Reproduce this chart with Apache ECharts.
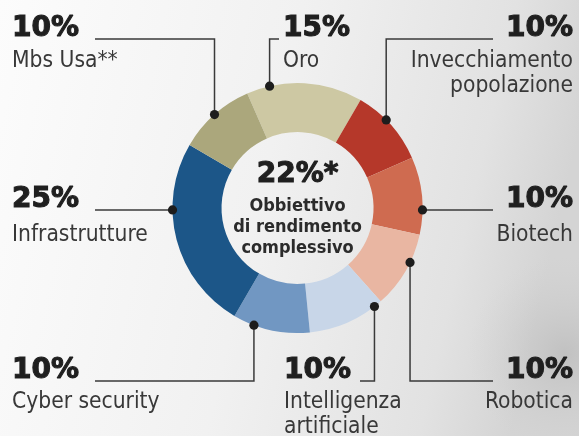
<!DOCTYPE html>
<html><head><meta charset="utf-8">
<script src="https://cdn.jsdelivr.net/npm/echarts@6/dist/echarts.min.js"></script>
<style>html,body{margin:0;padding:0;background:#fff;}#c{width:579px;height:436px;}</style>
</head><body><div id="c"></div>
<script>
// ---- data ----
const categories = ['Oro', 'Invecchiamento\npopolazione', 'Biotech', 'Robotica', 'Intelligenza\nartificiale', 'Cyber security', 'Infrastrutture', 'Mbs Usa**'];
const values = [15, 10, 10, 10, 10, 10, 25, 10];
const colors = ['#cdc8a3', '#b5382a', '#cf6b50', '#e9b6a2', '#c8d6e8', '#7197c2', '#1c5688', '#aba77c'];
const centerValue = '22%*';
const centerLines = ['Obbiettivo', 'di rendimento', 'complessivo'];

// ---- fonts ----
function hasFont(name) {
  const c = document.createElement('canvas').getContext('2d');
  const t = 'Invecchiamento popolazione 10%';
  c.font = '40px monospace'; const a = c.measureText(t).width;
  c.font = '40px "' + name + '", monospace'; const b = c.measureText(t).width;
  return Math.abs(a - b) > 0.5;
}
const NARROW = hasFont('Liberation Sans Narrow') ? { f: '"Liberation Sans Narrow"', s: 28, cs: 23 }
  : hasFont('DejaVu Sans Condensed') ? { f: '"DejaVu Sans Condensed"', s: 22.6, cs: 18 }
  : { f: '"Noto Sans"', s: 21.6, cs: 17 };
const HEAVY = '"DejaVu Sans"';

// ---- layout (positions, not data) ----
const CX = 297.5, CY = 208, R0 = 76, R1 = 125;
const layout = [
  { x: 283, y: 9, align: 'left', ps: 'p', dot: 347.1, path: 'v', lineAt: 39, end: 279 },
  { x: 573, y: 9, align: 'right', ps: 'p', dot: 45.2, path: 'v', lineAt: 39, end: 493 },
  { x: 573, y: 177, align: 'right', ps: 'pm', dot: 90.9, path: 'h', end: 493 },
  { x: 573, y: 352, align: 'right', ps: 'pb', dot: 115.8, path: 'v', lineAt: 381, end: 493 },
  { x: 284, y: 352, align: 'left', ps: 'pb', dot: 142, path: 'v', lineAt: 381, end: 360 },
  { x: 12, y: 352, align: 'left', ps: 'pb', dot: 200.4, path: 'v', lineAt: 381, end: 95 },
  { x: 12, y: 177, align: 'left', ps: 'pm', dot: 269.1, path: 'h', end: 95 },
  { x: 12, y: 9, align: 'left', ps: 'p', dot: 318.4, path: 'v', lineAt: 39, end: 95 }
];
function dotPos(a) {
  const r = a * Math.PI / 180;
  return [CX + R1 * Math.sin(r), CY - R1 * Math.cos(r)];
}
const pctStyle = { fontFamily: HEAVY, fontWeight: 'bold', fontSize: 28, color: '#1f1f1f', textBorderColor: '#1f1f1f', textBorderWidth: 1.1 };

const chart = echarts.init(document.getElementById('c'), null, { renderer: 'canvas' });
const option = {
  animation: false,
  backgroundColor: {
    type: 'linear', x: 0, y: 0, x2: 1, y2: 0.3,
    colorStops: [
      { offset: 0, color: '#fcfcfc' },
      { offset: 0.5, color: '#f1f1f1' },
      { offset: 0.85, color: '#e2e2e2' },
      { offset: 1, color: '#d4d4d4' }
    ]
  },
  graphic: [
    {
      type: 'rect', z: 0, silent: true,
      shape: { x: 440, y: 230, width: 139, height: 206 },
      style: {
        fill: {
          type: 'radial', x: 0.9, y: 0.6, r: 0.7,
          colorStops: [{ offset: 0, color: 'rgba(170,170,170,0.45)' }, { offset: 1, color: 'rgba(200,200,200,0)' }]
        }
      }
    },
    {
      type: 'text', z: 100, x: CX, y: 154,
      style: {
        text: '{a|' + centerValue + '}\n' + centerLines.map(s => '{b|' + s + '}').join('\n'),
        align: 'center', verticalAlign: 'top',
        rich: {
          a: { fontFamily: HEAVY, fontWeight: 'bold', fontSize: 28, lineHeight: 42, fill: '#1f1f1f', stroke: '#1f1f1f', lineWidth: 1.1, align: 'center' },
          b: { fontFamily: NARROW.f, fontWeight: 'bold', fontSize: NARROW.cs, lineHeight: 21, fill: '#2b2b2b', align: 'center' }
        }
      }
    }
  ].concat(layout.map(L => {
    const d = dotPos(L.dot);
    return { type: 'circle', z: 100, silent: true, shape: { cx: d[0], cy: d[1], r: 4.6 }, style: { fill: '#1d1d1d' } };
  })),
  series: [{
    type: 'pie',
    center: [CX, CY],
    radius: [R0, R1],
    startAngle: 113.7,
    clockwise: true,
    avoidLabelOverlap: false,
    emphasis: { disabled: true },
    itemStyle: { borderWidth: 0 },
    label: {
      show: true,
      position: 'outside',
      formatter: p => '{' + layout[p.dataIndex].ps + '|' + p.value + '%}\n' + p.name.split('\n').map(s => '{n|' + s + '}').join('\n'),
      rich: {
        p: Object.assign({}, pctStyle, { lineHeight: 40 }),
        pm: Object.assign({}, pctStyle, { lineHeight: 46 }),
        pb: Object.assign({}, pctStyle, { lineHeight: 38 }),
        n: { fontFamily: NARROW.f, fontSize: NARROW.s, lineHeight: 25, color: '#383838' }
      }
    },
    labelLine: { show: true, smooth: false, length: 10, length2: 10, lineStyle: { color: '#3a3a3a', width: 1.5 } },
    labelLayout: function (params) {
      const L = layout[params.dataIndex];
      const d = dotPos(L.dot);
      const pts = L.path === 'v'
        ? [d, [d[0], L.lineAt], [L.end, L.lineAt]]
        : [d, [(d[0] + L.end) / 2, d[1]], [L.end, d[1]]];
      return { x: L.x, y: L.y, align: L.align, verticalAlign: 'top', labelLinePoints: pts };
    },
    data: categories.map((c, i) => ({ name: c, value: values[i], itemStyle: { color: colors[i] } }))
  }]
};
chart.setOption(option);
</script>
</body></html>
